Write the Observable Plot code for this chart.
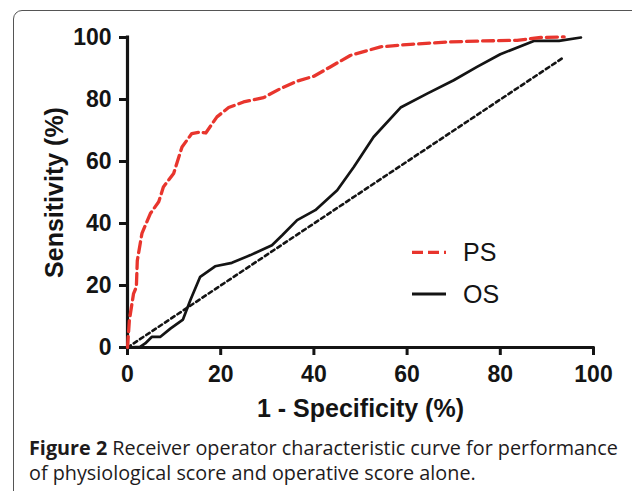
<!DOCTYPE html>
<html>
<head>
<meta charset="utf-8">
<script src="https://cdn.jsdelivr.net/npm/d3@7"></script>
<script src="https://cdn.jsdelivr.net/npm/@observablehq/plot@0.6"></script>
<style>
  html, body { margin: 0; padding: 0; background: #fff; }
  #wrap { position: relative; width: 632px; height: 491px; overflow: hidden; }
  #frame { position: absolute; left: 13px; top: 10px; width: 700px; height: 600px;
           border: 1.3px solid #555; border-radius: 9px; box-sizing: border-box; }
  #chart { position: absolute; left: 0; top: 0; }
  #legend { position: absolute; left: 0; top: 0; pointer-events: none; }
  #caption { position: absolute; left: 29px; top: 436px; color: #1e1b1c;
             font-family: "Open Sans", "Noto Sans", sans-serif; font-size: 19px; line-height: 24.5px; }
  #caption div { white-space: nowrap; }
  #caption b { font-weight: 700; }
</style>
</head>
<body>
<div id="wrap">
  <div id="frame"></div>
  <div id="chart"></div>
  <svg id="legend" width="632" height="425"></svg>
  <div id="caption">
    <div id="cap1"><b>Figure 2</b> Receiver operator characteristic curve for performance</div>
    <div id="cap2">of physiological score and operative score alone.</div>
  </div>
</div>
<script>
// ---- data ----
const psX = [0, 0.4, 1.3, 1.9, 2.1, 3.1, 4.9, 6.7, 7.7, 9.9, 11.7, 13.8, 15.6, 16.8, 19.2, 21.7, 24.9, 29.2, 32.8, 36.4, 40, 43.5, 47.8, 54.3, 60.7, 69.3, 76.5, 83.6, 88.7, 93.7];
const psY = [0, 8.8, 17.4, 19.5, 28, 36.8, 43.2, 47, 51.8, 56.1, 64.7, 69, 69.5, 69.2, 74.4, 77.4, 79.2, 80.6, 83.5, 85.9, 87.5, 90.5, 94.2, 97, 97.8, 98.6, 98.9, 99.1, 100, 100.2];
const osX = [0, 2.7, 3.8, 5.2, 7, 9.2, 11.9, 13.5, 15.6, 18.8, 22.4, 26.4, 31, 33.2, 36.4, 40.3, 45, 48.6, 52.8, 58.6, 64.3, 70, 75, 80, 87.2, 92.6, 97.3];
const osY = [0, 0.2, 1.3, 3.4, 3.4, 6.1, 9, 15.3, 22.8, 26.2, 27.3, 29.8, 33, 36.2, 41.1, 44.3, 50.7, 58.3, 67.9, 77.4, 81.9, 86.2, 90.5, 94.6, 98.9, 98.9, 100];
const refX = [0, 93.7];
const refY = [0, 93.7];
const tickValues = [0, 20, 40, 60, 80, 100];
const seriesNames = ["PS", "OS"];
const xTitle = "1 - Specificity (%)";
const yTitle = "Sensitivity (%)";

const RED = "#e8352d";
const INK = "#141414";

const ps = psX.map((x, i) => ({x, y: psY[i]}));
const os = osX.map((x, i) => ({x, y: osY[i]}));
const ref = refX.map((x, i) => ({x, y: refY[i]}));

const chart = Plot.plot({
  width: 632,
  height: 425,
  marginLeft: 127,
  marginRight: 39,
  marginTop: 37,
  marginBottom: 78,
  style: {fontFamily: "'Liberation Sans', Arial, Helvetica, sans-serif", fontWeight: "bold", color: INK, background: "transparent"},
  x: {domain: [0, 100]},
  y: {domain: [0, 100]},
  marks: [
    Plot.axisX({ticks: tickValues, tickSize: 8, tickPadding: 10, strokeWidth: 3, fontSize: 23, label: null, stroke: INK}),
    Plot.axisY({ticks: tickValues, tickSize: 8, tickPadding: 8, strokeWidth: 3, fontSize: 23, label: null, stroke: INK}),
    Plot.ruleY([0], {stroke: INK, strokeWidth: 3.2, strokeLinecap: "square"}),
    Plot.ruleX([0], {stroke: INK, strokeWidth: 3.2, strokeLinecap: "square"}),
    Plot.line(ref, {x: "x", y: "y", stroke: INK, strokeWidth: 2.6, strokeDasharray: "4,3.5"}),
    Plot.line(os, {x: "x", y: "y", stroke: INK, strokeWidth: 2.7}),
    Plot.line(ps, {x: "x", y: "y", stroke: RED, strokeWidth: 3.3, strokeDasharray: "11,5"}),
    Plot.text([xTitle], {frameAnchor: "bottom", textAnchor: "middle", lineAnchor: "middle", dy: 61, fontSize: 25, fontWeight: "bold", fill: INK}),
    Plot.text([yTitle], {frameAnchor: "left", textAnchor: "middle", lineAnchor: "middle", rotate: -90, dx: -73, fontSize: 25, fontWeight: "bold", fill: INK})
  ]
});
document.getElementById("chart").appendChild(chart);

// legend
const lg = d3.select("#legend");
const legendStyles = [
  {stroke: RED, width: 3.3, dash: "11,5", lineY: 252.3, textY: 260.7},
  {stroke: INK, width: 3, dash: null, lineY: 294, textY: 303}
];
seriesNames.forEach((name, i) => {
  const s = legendStyles[i];
  lg.append("line").attr("x1", 412).attr("x2", 446).attr("y1", s.lineY).attr("y2", s.lineY)
    .attr("stroke", s.stroke).attr("stroke-width", s.width).attr("stroke-dasharray", s.dash);
  lg.append("text").attr("x", 463).attr("y", s.textY).text(name)
    .attr("font-family", "'Liberation Sans', Arial, Helvetica, sans-serif")
    .attr("font-size", 25).attr("fill", INK);
});

// fit caption width
const c1 = document.getElementById("cap1");
const w = c1.getBoundingClientRect().width;
const cap = document.getElementById("caption");
const fs = 19 * 589 / w;
cap.style.fontSize = fs.toFixed(2) + "px";
</script>
</body>
</html>
